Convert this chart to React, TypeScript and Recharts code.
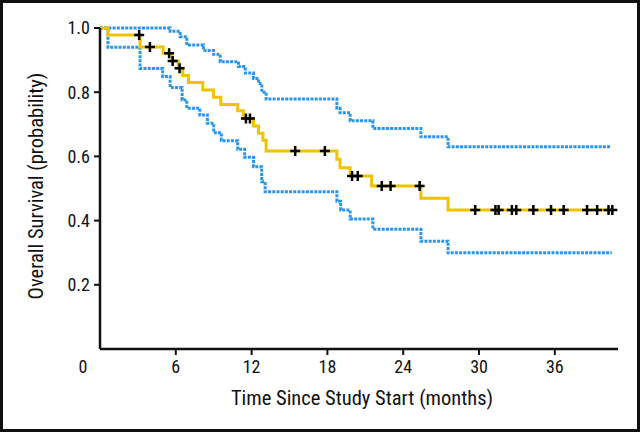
import React from 'react'
import { ComposedChart, Line, Scatter, XAxis, YAxis, Label } from 'recharts'

// Kaplan-Meier estimate: [months, survival probability] at each step
const survivalSteps: [number, number][] = [
  [0, 1.0], [0.63, 0.978], [3.17, 0.941], [5.0, 0.921], [5.7, 0.897], [6.2, 0.875],
  [6.55, 0.852], [7.0, 0.83], [8.14, 0.807], [8.98, 0.784], [9.56, 0.762], [10.9, 0.742],
  [11.35, 0.718], [12.15, 0.695], [12.55, 0.672], [12.9, 0.65], [13.15, 0.617],
  [18.75, 0.591], [19.0, 0.565], [19.8, 0.539], [21.5, 0.508], [25.4, 0.47],
  [27.55, 0.433], [40.7, 0.433],
]

const upperSteps: [number, number][] = [
  [0, 1.0], [5.55, 0.99], [6.34, 0.973], [6.87, 0.947], [8.19, 0.93], [8.98, 0.918],
  [9.51, 0.895], [10.96, 0.88], [11.5, 0.86], [12.15, 0.843], [12.54, 0.827],
  [12.81, 0.8], [13.15, 0.779], [18.75, 0.75], [19.0, 0.736], [19.8, 0.711],
  [21.6, 0.687], [25.4, 0.661], [27.55, 0.63], [40.4, 0.63],
]

const lowerSteps: [number, number][] = [
  [0, 1.0], [0.63, 0.94], [3.17, 0.874], [4.96, 0.849], [5.55, 0.815], [6.5, 0.776],
  [6.87, 0.75], [7.9, 0.729], [8.5, 0.703], [9.0, 0.674], [9.6, 0.649], [10.9, 0.622],
  [11.45, 0.597], [12.15, 0.568], [12.8, 0.521], [13.07, 0.49], [18.75, 0.46],
  [19.05, 0.433], [19.8, 0.405], [21.6, 0.373], [25.4, 0.336], [27.55, 0.3], [40.5, 0.3],
]

// censored observations (months)
const censorTimes = [
  3.1, 3.95, 5.47, 5.75, 6.3, 11.55, 11.87, 15.45, 17.8, 19.95, 20.4, 22.3, 23.0, 25.3,
  29.7, 31.3, 31.55, 32.6, 32.95, 34.3, 35.7, 36.7, 38.55, 39.35, 40.25, 40.55,
]

const xTicks = [0, 6, 12, 18, 24, 30, 36]
const yTicks = [0.2, 0.4, 0.6, 0.8, 1.0]

const FONT = '"Liberation Sans Narrow", "Roboto Condensed", "Liberation Sans", Arial, sans-serif'
const BLUE = '#2a96ea'
const YELLOW = '#f0c200'

const toRows = (steps: [number, number][]) => steps.map(([t, s]) => ({ t, s }))

function survivalAt(t: number) {
  let s = 1
  for (const [time, value] of survivalSteps) {
    if (time <= t) s = value
  }
  return s
}

const censorRows = censorTimes.map((t) => ({ t, s: survivalAt(t) }))

const CensorMark = (props: any) => {
  const { cx, cy } = props
  return (
    <path
      d={`M${cx - 5},${cy}h10M${cx},${cy - 5}v10`}
      stroke="#000"
      strokeWidth={2.5}
      fill="none"
    />
  )
}

const XTick = (props: any) => {
  const { x, y, payload } = props
  const v = payload.value
  if (v === 0) {
    return (
      <text x={x - 17} y={y + 18} textAnchor="middle" fontSize={18} fontFamily={FONT} fill="#111">
        0
      </text>
    )
  }
  return (
    <g>
      <line x1={x} x2={x} y1={y - 6} y2={y} stroke="#111" strokeWidth={2} />
      <text x={x} y={y + 18} textAnchor="middle" fontSize={18} fontFamily={FONT} fill="#111">
        {v}
      </text>
    </g>
  )
}

export default function App() {
  return (
    <div
      style={{
        position: 'absolute',
        left: 0,
        top: 0,
        width: 640,
        height: 432,
        border: '3px solid #111',
        boxSizing: 'border-box',
        background: '#fff',
      }}
    >
      <div style={{ position: 'absolute', left: -3, top: -3 }}>
        <ComposedChart width={640} height={432} margin={{ top: 28, right: 22, bottom: 43, left: 0 }}>
          <XAxis
            type="number"
            dataKey="t"
            domain={[0, 41]}
            ticks={xTicks}
            allowDataOverflow
            height={40}
            tickSize={6}
            tickMargin={0}
            tickLine={false}
            axisLine={{ stroke: '#111', strokeWidth: 2.5 }}
            tick={<XTick />}
            interval={0}
          >
            <Label
              content={() => (
                <text x={362} y={405} textAnchor="middle" fontSize={20.5} fontFamily={FONT} fill="#111">
                  Time Since Study Start (months)
                </text>
              )}
            />
          </XAxis>
          <YAxis
            type="number"
            dataKey="s"
            domain={[0, 1]}
            ticks={yTicks}
            width={100}
            tickSize={6}
            tickMargin={4}
            interval={0}
            tickFormatter={(v: number) => v.toFixed(1)}
            tick={{ fill: '#111', fontSize: 18, fontFamily: FONT }}
            tickLine={{ stroke: '#111', strokeWidth: 2 }}
            axisLine={{ stroke: '#111', strokeWidth: 2.5 }}
          >
            <Label
              content={() => (
                <text
                  x={0}
                  y={0}
                  transform="translate(36,186) rotate(-90)"
                  textAnchor="middle"
                  dominantBaseline="central"
                  fontSize={20.5}
                  fontFamily={FONT}
                  fill="#111"
                >
                  Overall Survival (probability)
                </text>
              )}
            />
          </YAxis>
          <Line
            data={toRows(upperSteps)}
            dataKey="s"
            type="stepAfter"
            stroke={BLUE}
            strokeWidth={3}
            strokeDasharray="3 1.2"
            dot={false}
            activeDot={false}
            isAnimationActive={false}
          />
          <Line
            data={toRows(lowerSteps)}
            dataKey="s"
            type="stepAfter"
            stroke={BLUE}
            strokeWidth={3}
            strokeDasharray="3 1.2"
            dot={false}
            activeDot={false}
            isAnimationActive={false}
          />
          <Line
            data={toRows(survivalSteps)}
            dataKey="s"
            type="stepAfter"
            stroke={YELLOW}
            strokeWidth={3}
            dot={false}
            activeDot={false}
            isAnimationActive={false}
          />
          <Scatter data={censorRows} dataKey="s" shape={<CensorMark />} isAnimationActive={false} />
        </ComposedChart>
      </div>
    </div>
  )
}
